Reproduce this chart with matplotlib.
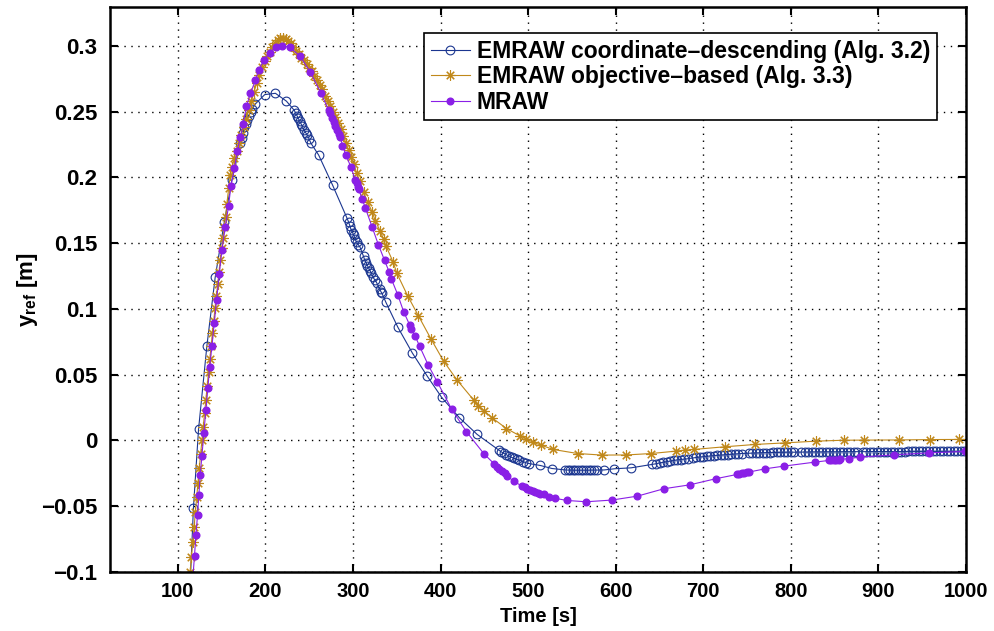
import matplotlib
matplotlib.use("Agg")
import matplotlib.pyplot as plt

plt.rcParams['font.family'] = ['Liberation Sans', 'DejaVu Sans']
plt.rcParams['font.weight'] = 'bold'
plt.rcParams['mathtext.fontset'] = 'custom'
plt.rcParams['mathtext.bf'] = 'Liberation Sans:bold'
plt.rcParams['mathtext.rm'] = 'Liberation Sans:bold'

# EMRAW coordinate-descending (Alg. 3.2)
cd_t = [113.0, 117.8, 123.6, 133.1, 142.6, 153.0, 161.7,
        171.5, 173.0, 174.5, 176.0, 177.5, 179.0, 181.0, 183.0, 184.8,
        188.6, 199.2, 211.4, 224.0,
        233.0, 234.5, 236.0, 237.5, 239.0, 240.5, 242.0, 244.0, 246.0, 248.0, 250.0, 252.0,
        260.8, 276.8,
        293.2, 295.0, 296.5, 298.0, 299.5, 301.0, 302.5, 304.0, 306.0, 308.0,
        312.0, 313.5, 315.0, 316.5, 318.0, 319.5, 321.0, 323.0, 325.0, 327.0,
        330.5, 332.0, 333.0, 337.6, 351.3, 367.7, 384.8, 401.1, 421.6, 441.8,
        466.5, 469.0, 472.0, 475.0, 478.0, 481.0, 484.0, 487.0, 490.0, 494.0, 497.0, 500.6,
        513.9, 527.2,
        542.4, 545.0, 548.0, 551.0, 554.0, 557.0, 560.0, 563.0, 566.0, 569.0, 572.0, 574.7,
        578.5, 586.9, 598.6, 617.5,
        642, 646, 650, 654, 658, 662, 666, 670, 674, 678, 682,
        688, 692, 696, 700, 704, 708, 712, 716, 720, 724, 728, 732, 736, 740, 744,
        752, 756, 760, 764, 768, 772, 776, 780, 784, 788, 792, 796, 800, 804,
        812, 816, 820, 824, 828, 832, 836, 840, 844, 848, 852, 856, 860, 864, 868, 872, 876,
        882, 886, 890, 894, 898, 902, 906, 910, 914, 918, 922, 926, 930, 934, 938, 942, 946,
        950, 954, 958, 962, 966, 970, 974, 978, 982, 986, 990, 994, 998]
cd_y = [-0.125, -0.051, 0.0084, 0.0717, 0.124, 0.166, 0.198,
        0.226, 0.230, 0.234, 0.238, 0.241, 0.244, 0.247, 0.250, 0.252,
        0.256, 0.263, 0.264, 0.258,
        0.251, 0.249, 0.247, 0.245, 0.243, 0.241, 0.239, 0.236, 0.234, 0.232, 0.229, 0.226,
        0.217, 0.194,
        0.169, 0.166, 0.163, 0.160, 0.158, 0.156, 0.153, 0.151, 0.149, 0.147,
        0.140, 0.137, 0.135, 0.133, 0.131, 0.129, 0.127, 0.124, 0.122, 0.120,
        0.115, 0.113, 0.112, 0.105, 0.086, 0.0666, 0.0489, 0.0329, 0.0172, 0.0046,
        -0.0073, -0.0085, -0.0097, -0.0108, -0.0118, -0.0128, -0.0136, -0.0144, -0.0150,
        -0.0160, -0.0168, -0.0175,
        -0.0190, -0.0213,
        -0.0224, -0.0225, -0.0225, -0.0226, -0.0226, -0.0226, -0.0226, -0.0226, -0.0226,
        -0.0226, -0.0225, -0.0225,
        -0.0225, -0.0224, -0.0215, -0.0208,
        -0.0182, -0.0177, -0.0171, -0.0166, -0.0161, -0.0157, -0.0152, -0.0148, -0.0145,
        -0.0142, -0.0139,
        -0.0133, -0.0129, -0.0126, -0.0123, -0.0120, -0.0118, -0.0115, -0.0113, -0.0111,
        -0.0109, -0.0107, -0.0105, -0.0103, -0.0101, -0.0099,
        -0.0097, -0.0096, -0.0095, -0.0094, -0.0093, -0.0092, -0.0092, -0.0091, -0.0091,
        -0.0090, -0.0090, -0.0089, -0.0089, -0.0089,
        -0.0088, -0.0088, -0.0088, -0.0087, -0.0087, -0.0087, -0.0087, -0.0086, -0.0086,
        -0.0086, -0.0086, -0.0086, -0.0085, -0.0085, -0.0085, -0.0085, -0.0085,
        -0.0085, -0.0085, -0.0084, -0.0084, -0.0084, -0.0084, -0.0084, -0.0084, -0.0084,
        -0.0084, -0.0084, -0.0084, -0.0084, -0.0083, -0.0083, -0.0083, -0.0083,
        -0.0083, -0.0083, -0.0083, -0.0083, -0.0083, -0.0083, -0.0083, -0.0083, -0.0083,
        -0.0083, -0.0083, -0.0083, -0.0083]

# EMRAW objective-based (Alg. 3.3)
ob_t = [114.0, 115.5, 117.0, 118.5, 120.0, 121.5, 123.0, 124.5, 126.0, 127.5, 129.0,
        130.5, 132.0, 133.5, 135.0, 136.5, 138.0, 139.5, 141.0, 142.5, 144.0, 145.5,
        147.0, 148.5, 150.0, 151.5, 153.0, 154.5, 156.0, 158.0, 160.0, 162.0, 164.5,
        167.0, 169.5, 172.0, 175.0, 178.0, 181.0, 184.0, 187.0, 190.0, 193.0, 196.0,
        199.0, 202.0, 205.0, 208.0, 211.0, 214.0, 217.0, 220.0, 223.0, 226.0, 229.0,
        232.0, 235.0, 238.0, 241.0, 244.0, 247.0, 250.0, 253.0, 256.0, 259.0, 262.0,
        265.0, 268.0, 271.0, 274.0, 277.0, 280.0, 283.0, 286.0, 289.0, 292.0, 295.0,
        298.0, 301.0, 304.0, 308.0, 312.0, 317.0, 321.7, 325.5, 331.2, 335.0, 337.6,
        345.6, 350.2, 362.4, 374.6, 389.2, 403.5, 419.0, 438.0, 443.0, 450.1, 458.9,
        475.2, 491.2, 497.6, 505.2, 514.7, 528.4, 556.5, 584.2, 612.2, 640.8, 668.5,
        679.1, 689.4, 724.3, 759.6, 793.8, 829.1, 860.3, 883.8, 923.7, 959.0, 992.4]
ob_y = [-0.100, -0.0885, -0.077, -0.066, -0.0545, -0.043, -0.032, -0.021, -0.010, 0.000,
        0.0105, 0.021, 0.031, 0.0415, 0.052, 0.062, 0.072, 0.082, 0.091, 0.101, 0.110,
        0.119, 0.128, 0.137, 0.146, 0.154, 0.162, 0.170, 0.180, 0.192, 0.2015, 0.208,
        0.2145, 0.2205, 0.2265, 0.232, 0.2385, 0.2445, 0.2515, 0.258, 0.265, 0.272,
        0.278, 0.284, 0.2885, 0.292, 0.2955, 0.2995, 0.3025, 0.3045, 0.306, 0.3063,
        0.3055, 0.304, 0.302, 0.299, 0.2965, 0.294, 0.291, 0.289, 0.286, 0.2835, 0.281,
        0.277, 0.274, 0.270, 0.267, 0.262, 0.258, 0.254, 0.2495, 0.246, 0.2415, 0.2365,
        0.2315, 0.226, 0.221, 0.2155, 0.210, 0.2035, 0.197, 0.189, 0.181, 0.174, 0.167,
        0.159, 0.153, 0.148, 0.136, 0.127, 0.110, 0.0949, 0.077, 0.0603, 0.0458, 0.0306,
        0.0266, 0.0223, 0.0172, 0.0091, 0.0033, 0.0013, -0.0013, -0.0035, -0.0068,
        -0.0099, -0.0111, -0.0110, -0.0099, -0.0081, -0.0073, -0.0068, -0.0048, -0.0030,
        -0.0018, -0.0005, 0.0002, 0.0003, 0.0004, 0.0007, 0.0008]

# MRAW
mr_t = [116.5, 119.0, 120.6, 122.5, 124.0, 125.5, 127.4, 129.7, 132.0, 134.3, 136.2,
        138.9, 141.5, 144.2, 147.2, 150.3, 154.1, 157.9, 160.6, 164.6, 167.7, 171.5,
        174.5, 178.3, 182.9, 188.6, 192.4, 198.1, 205.0, 211.8, 219.0, 227.8, 239.9,
        251.3, 263.5, 272.2, 274.0, 276.0, 278.0, 280.0, 282.0, 284.0, 285.5, 288.0,
        292.0, 297.5, 302.7, 304.0, 305.2, 306.5, 310.3, 314.0, 322.0, 328.9, 336.0,
        341.4, 343.7, 351.0, 357.8, 364.6, 366.0, 370.8, 376.1, 386.0, 396.2, 412.5,
        429.6, 449.4, 461.5, 464.0, 467.0, 470.0, 473.0, 476.0, 483.6, 493.0, 496.0,
        499.0, 502.0, 505.0, 508.0, 511.0, 514.0, 517.7, 523.4, 531.0, 544.3, 566.3,
        595.6, 624.8, 655.0, 684.8, 714.0, 738.7, 741.0, 744.0, 747.0, 750.0, 752.0,
        771.0, 791.9, 828.0, 843.2, 846.0, 849.0, 852.0, 855.0, 856.5, 866.7, 878.5,
        918.0, 958.3, 998.9]
mr_y = [-0.110, -0.0875, -0.072, -0.0563, -0.0411, -0.0265, -0.012, 0.0057, 0.0234,
        0.0399, 0.0558, 0.0715, 0.0892, 0.1065, 0.1265, 0.1449, 0.1622, 0.1784, 0.1938,
        0.207, 0.220, 0.231, 0.241, 0.254, 0.264, 0.274, 0.282, 0.289, 0.295, 0.299,
        0.300, 0.299, 0.292, 0.280, 0.264, 0.251, 0.249, 0.245, 0.242, 0.239, 0.236,
        0.233, 0.231, 0.224, 0.217, 0.208, 0.198, 0.196, 0.193, 0.191, 0.184, 0.177,
        0.162, 0.149, 0.137, 0.128, 0.123, 0.111, 0.098, 0.088, 0.085, 0.0797, 0.0716,
        0.0572, 0.0446, 0.024, 0.0066, -0.010, -0.018, -0.020, -0.0215, -0.023, -0.025,
        -0.027, -0.031, -0.0347, -0.0357, -0.0366, -0.0375, -0.0383, -0.039, -0.0398,
        -0.0404, -0.041, -0.0428, -0.044, -0.0456, -0.0466, -0.0453, -0.0423, -0.0367,
        -0.0337, -0.0291, -0.0258, -0.0254, -0.0249, -0.0246, -0.0242, -0.024, -0.0215,
        -0.0195, -0.0164, -0.0152, -0.015, -0.0148, -0.0146, -0.0145, -0.0144, -0.0137,
        -0.0127, -0.0109, -0.0094, -0.0083]

labels = ['EMRAW coordinate\u2013descending (Alg. 3.2)',
          'EMRAW objective\u2013based (Alg. 3.3)',
          'MRAW']

blue = '#1b3690'
gold = '#c0881a'
purple = '#8a1fe6'

fig = plt.figure(figsize=(9.94, 6.31), dpi=100)
ax = fig.add_axes([110 / 994, 1 - 572 / 631, 856 / 994, 565.5 / 631])

ax.plot(cd_t, cd_y, color=blue, lw=0.8, marker='o', ms=6.3, mfc='none', mec=blue, mew=0.8,
        label=labels[0])
ax.plot(ob_t, ob_y, color=gold, lw=0.8, marker=(8, 2, 0), ms=7.5, mec=gold, mew=0.8,
        label=labels[1])
ax.plot(mr_t, mr_y, color=purple, lw=0.8, marker='o', ms=4.8, mfc=purple, mec=purple,
        label=labels[2])

ax.set_xlim(22.5, 1000)
ax.set_ylim(-0.1, 0.33)
ax.set_xticks(range(100, 1001, 100))
ax.set_yticks([-0.1, -0.05, 0, 0.05, 0.1, 0.15, 0.2, 0.25, 0.3])
ax.set_yticklabels(['\u22120.1', '\u22120.05', '0', '0.05', '0.1', '0.15', '0.2', '0.25', '0.3'])
ax.tick_params(direction='in', top=True, right=True, length=6, width=1.5)
ax.tick_params(axis='x', labelsize=14.5, pad=7)
ax.tick_params(axis='y', labelsize=16, pad=9)
for lab in ax.get_xticklabels() + ax.get_yticklabels():
    lab.set_fontweight('bold')
for sp in ax.spines.values():
    sp.set_linewidth(1.8)

ax.grid(True, color='black', linestyle=(0, (1, 4)), linewidth=1.0)

ax.set_xlabel('Time [s]', fontsize=14.5, fontweight='bold')
ax.set_ylabel(r'y$_{\mathbf{ref}}$ [m]', fontsize=16, fontweight='bold')
ax.xaxis.set_label_coords(0.5, -0.062)
ax.yaxis.set_label_coords(-0.082, 0.5)

leg = ax.legend(loc='upper right', bbox_to_anchor=(0.966, 0.953), fancybox=False,
                framealpha=1, edgecolor='black', prop={'weight': 'bold', 'size': 16.5},
                handlelength=1.7, handletextpad=0.3, borderpad=0.3,
                labelspacing=0.1, borderaxespad=0, numpoints=1)
leg.get_frame().set_linewidth(1.2)

fig.savefig('out.png', dpi=100)
